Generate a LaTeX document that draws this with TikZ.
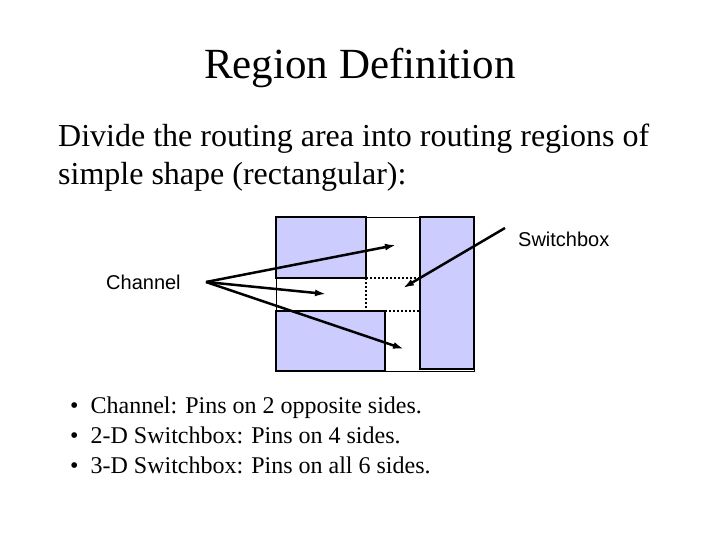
\documentclass[tikz,border=0pt]{standalone}
\usepackage{fontspec}
\usetikzlibrary{arrows.meta}
\setmainfont{Liberation Serif}
\newfontfamily\sansf{Liberation Sans}
\begin{document}
\begin{tikzpicture}[x=1pt,y=-1pt,
  blk/.style={draw=black,line width=2.5pt,fill={rgb,255:red,204;green,204;blue,255}},
  arr/.style={line width=2.5pt,-{Latex[length=11pt,width=7pt]}},
  txt/.style={anchor=west,inner sep=0pt,align=left}]
\useasboundingbox (0,0) rectangle (720,540);
\node[inner sep=0pt,font=\fontsize{43}{48}\selectfont] (title) at (360,68) {Region Definition};
\node[txt,font=\fontsize{32}{38}\selectfont] (body) at (58,158) {Divide the routing area into routing regions of\\simple shape (rectangular):};
\draw[line width=0.8pt,fill=white] (276,217) rectangle (474,371);
\node[blk,minimum width=90pt,minimum height=61pt,inner sep=0pt] (tl) at (321,247.5) {};
\node[blk,minimum width=109pt,minimum height=60pt,inner sep=0pt] (bl) at (330.5,341) {};
\node[blk,minimum width=54pt,minimum height=152pt,inner sep=0pt] (r) at (447,293) {};
\draw[line width=2pt,dotted] (366,278) rectangle (420,311);
\node[txt,font=\sansf\fontsize{20}{24}\selectfont] (chan) at (106,282) {Channel};
\node[txt,font=\sansf\fontsize{20}{24}\selectfont] (sw) at (518,239) {Switchbox};
\coordinate (cp) at (206,282);
\coordinate (a1) at (396,245);
\coordinate (a2) at (326,294);
\coordinate (a3) at (404,349);
\coordinate (sp) at (505,228);
\coordinate (a4) at (403,288);
\draw[arr] (cp) -- (a1);
\draw[arr] (cp) -- (a2);
\draw[arr] (cp) -- (a3);
\draw[arr] (sp) -- (a4);
\node[txt,font=\fontsize{24}{30}\selectfont] (bul) at (70,435) {%
\textbullet\ \ Channel: Pins on 2 opposite sides.\\
\textbullet\ \ 2-D Switchbox: Pins on 4 sides.\\
\textbullet\ \ 3-D Switchbox: Pins on all 6 sides.};
\end{tikzpicture}
\end{document}
